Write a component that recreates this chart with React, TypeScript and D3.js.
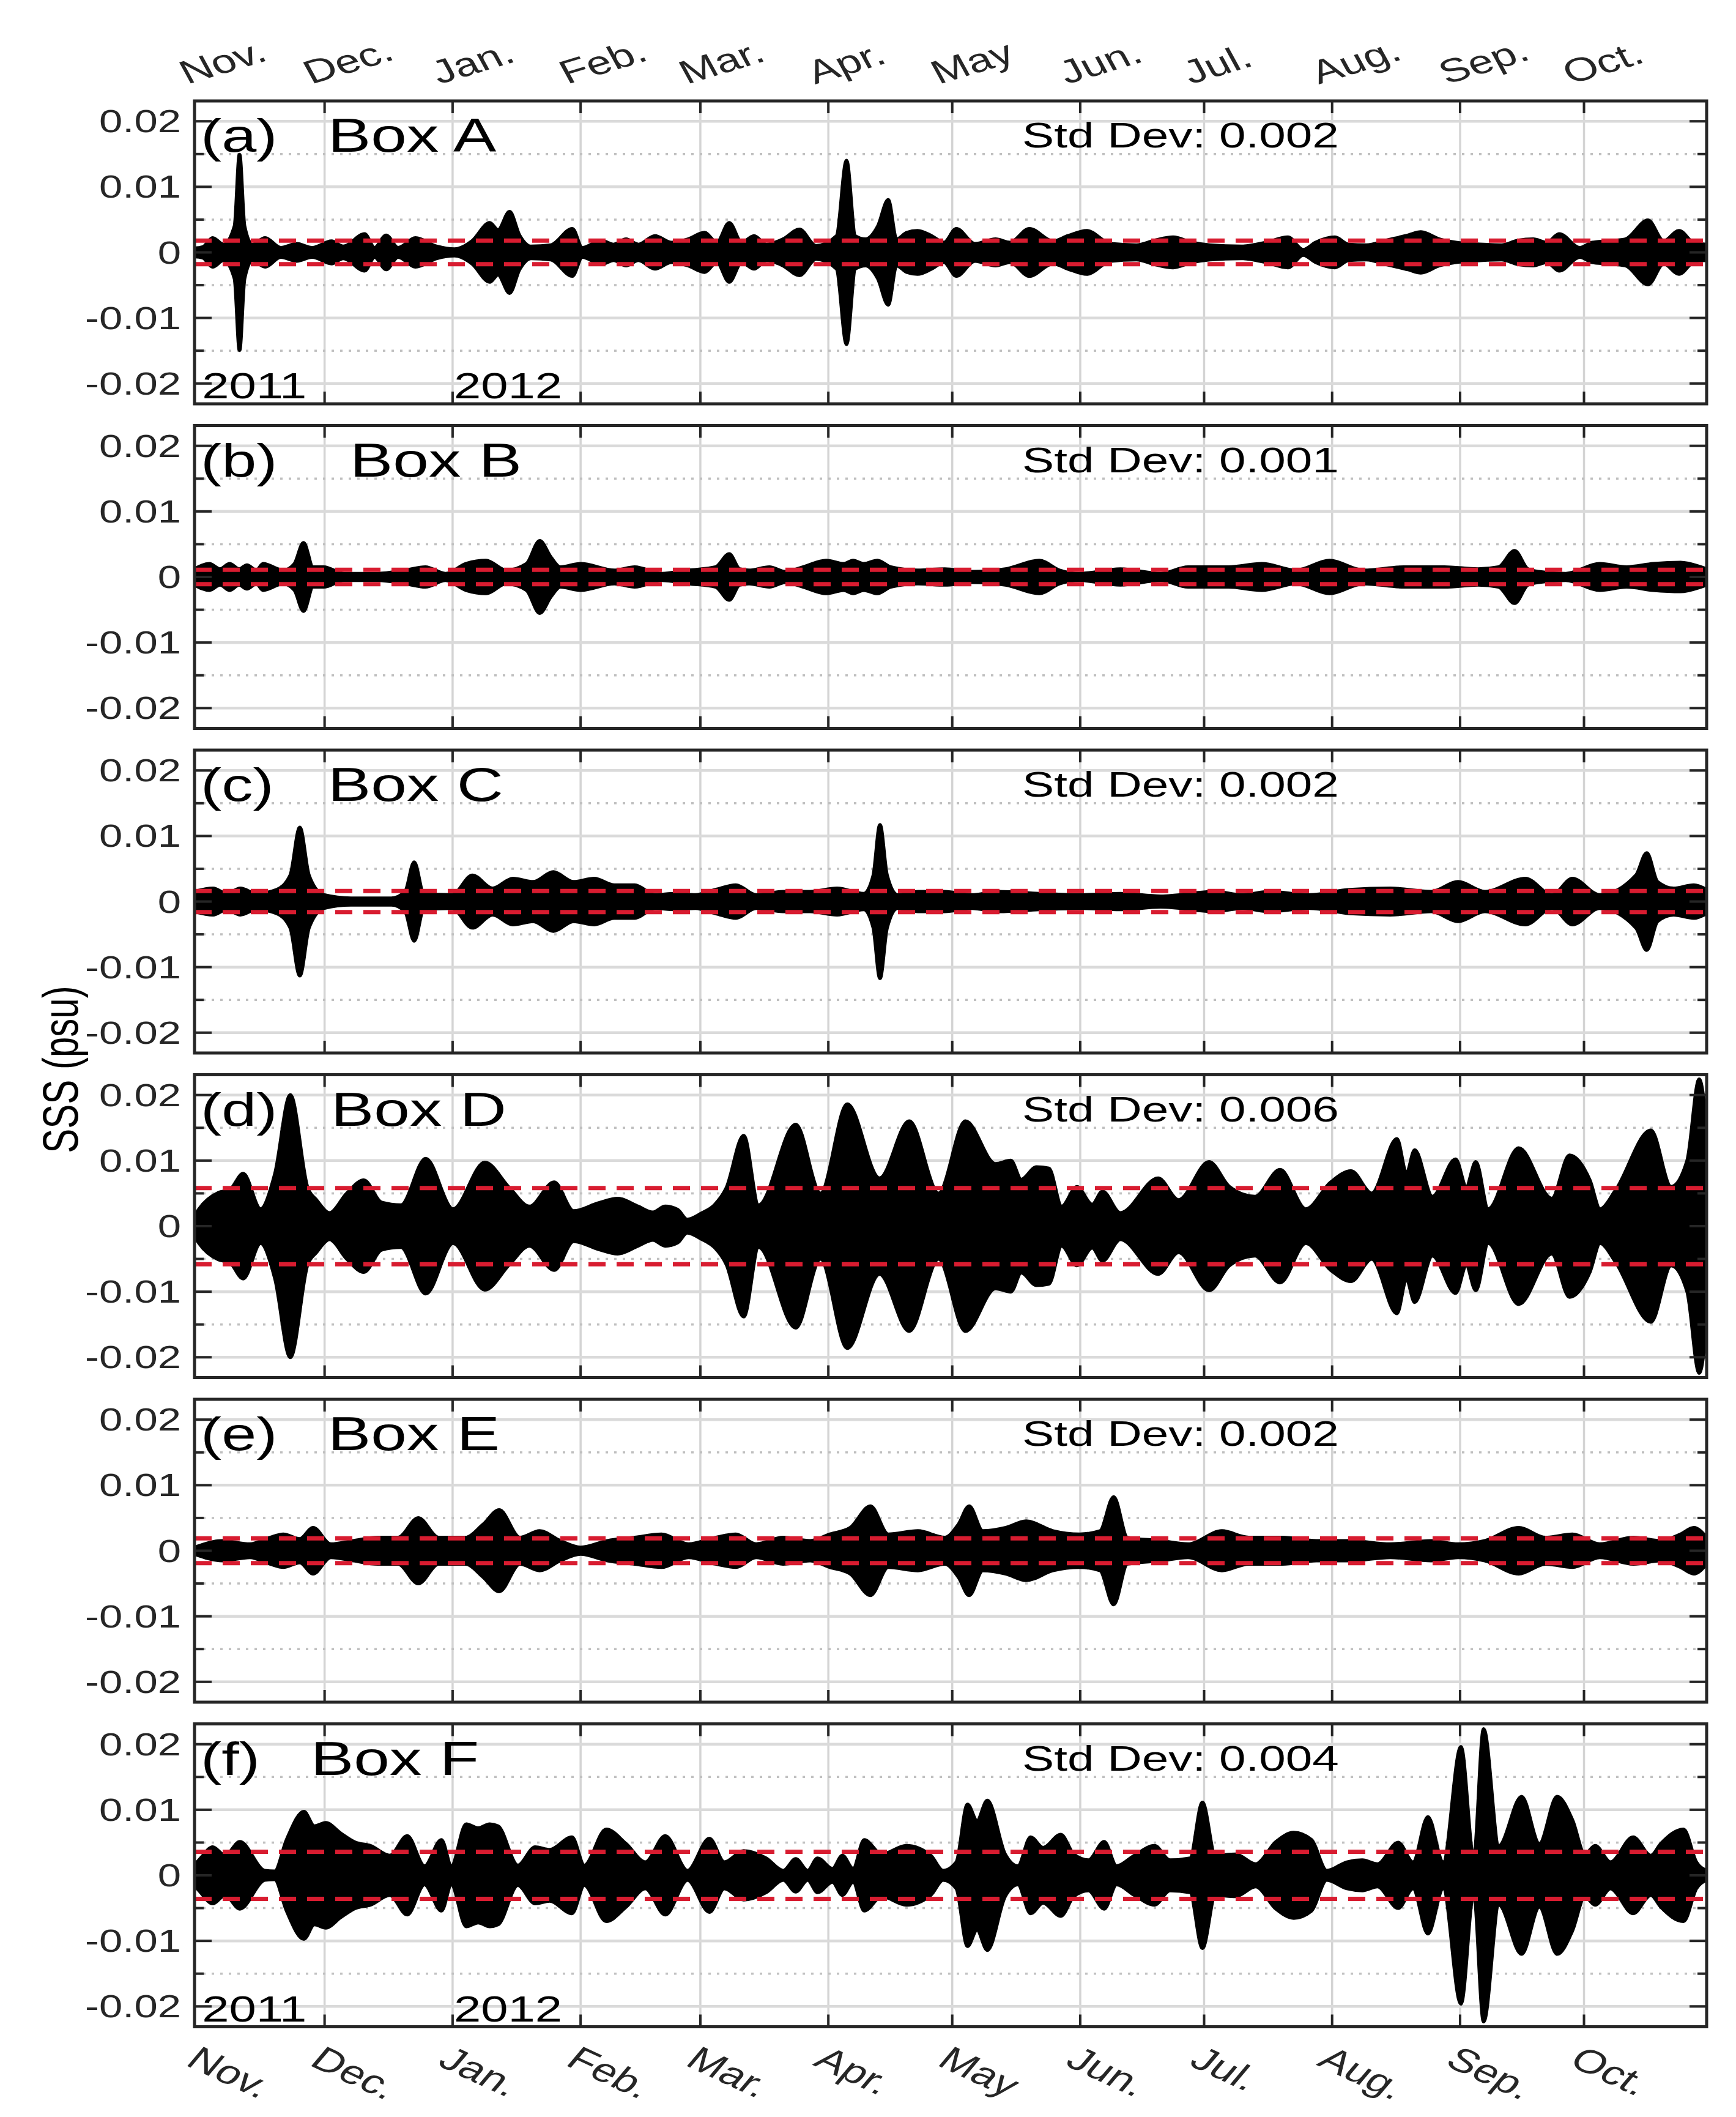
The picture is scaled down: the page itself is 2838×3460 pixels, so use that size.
import React from 'react';
import * as d3 from 'd3';

// ---- data ----
const monthLabels = ['Nov.', 'Dec.', 'Jan.', 'Feb.', 'Mar.', 'Apr.', 'May', 'Jun.', 'Jul.', 'Aug.', 'Sep.', 'Oct.'];
const yMajor = [-0.02, -0.01, 0, 0.01, 0.02];
const yMajorLabels = ['-0.02', '-0.01', '0', '0.01', '0.02'];
const yMinor = [-0.015, -0.005, 0.005, 0.015];
const panelLetters = ['(a)', '(b)', '(c)', '(d)', '(e)', '(f)'];
const boxNames = ['Box A', 'Box B', 'Box C', 'Box D', 'Box E', 'Box F'];
// standard deviation of each series (red dashed lines at +/- this)
const stdDevs = [0.0018, 0.0011, 0.0016, 0.0058, 0.0019, 0.0036];
const yearLabels = ['2011', '2012'];
const yearDays = [0, 61];

// envelope of the tidal-band SSS signal: [day since 1 Nov 2011, half amplitude (psu)]
const envA: [number, number][] = [
  [-1.5, 0.0006], [0.5, 0.0008], [2.9, 0.0022], [5.5, 0.0012], [8.2, 0.004], [9.4, 0.0149], [10.6, 0.004],
  [12.5, 0.0012], [15.6, 0.0022], [19.4, 0.0007], [23.2, 0.0013], [27, 0.0007], [31.7, 0.0017], [34.5, 0.0009],
  [39.7, 0.0028], [42.1, 0.0007], [44.9, 0.0026], [47.8, 0.0007], [52, 0.0022], [57.2, 0.0009], [61.5, 0.0005],
  [65.7, 0.0017], [70, 0.0045], [72, 0.0034], [74.8, 0.0062], [77.2, 0.0026], [80, 0.0009], [84.8, 0.0011],
  [90, 0.0036], [92.4, 0.0007], [97, 0.0018], [100, 0.0012], [103, 0.002], [106, 0.0012], [110, 0.0025],
  [114, 0.0015], [118, 0.002], [122, 0.003], [125, 0.0015], [128, 0.0045], [131, 0.0015], [134, 0.0025],
  [137, 0.0012], [141, 0.002], [145, 0.0035], [149, 0.001], [154, 0.0025], [156.4, 0.014], [158.5, 0.0025],
  [161, 0.002], [164, 0.004], [166.5, 0.008], [168.5, 0.002], [171, 0.003], [173.6, 0.0033], [177, 0.0025],
  [180, 0.0015], [183, 0.0036], [187.5, 0.0013], [192.5, 0.002], [196, 0.0015], [200.7, 0.0036], [206.4, 0.0017],
  [210, 0.0025], [214.6, 0.0033], [220.3, 0.0013], [226.6, 0.0011], [231, 0.0018], [235.5, 0.0023], [240, 0.0015],
  [244.4, 0.0011], [252, 0.0009], [258, 0.0015], [263.3, 0.0023], [267, 0.0004], [270, 0.0015], [274.7, 0.0023],
  [278, 0.0012], [282.3, 0.0011], [287, 0.0018], [292.4, 0.0026], [295.5, 0.0031], [300, 0.002], [304, 0.0015],
  [307.6, 0.0013], [315, 0.0011], [319, 0.0018], [322.7, 0.002], [326, 0.0015], [329, 0.0028], [334, 0.0007],
  [337, 0.0015], [340.4, 0.0017], [345, 0.002], [350.5, 0.0049], [354.3, 0.0017], [358, 0.0033], [361.9, 0.0013],
  [364.7, 0.0012],
];
const envB: [number, number][] = [
  [-1.5, 0.0012], [2.1, 0.002], [4.7, 0.0012], [7, 0.002], [9.3, 0.0012], [11.2, 0.0018], [13.5, 0.001],
  [15.1, 0.002], [20, 0.001], [22.7, 0.002], [24.9, 0.0052], [27.2, 0.0015], [29.8, 0.0015], [34.7, 0.0005],
  [42.9, 0.0005], [49.5, 0.001], [54.4, 0.0015], [59.3, 0.0005], [64.2, 0.002], [69.1, 0.0025], [74, 0.001],
  [78.9, 0.002], [82.1, 0.0055], [84.8, 0.003], [87.1, 0.0015], [92, 0.002], [100.2, 0.001], [105.1, 0.0015],
  [111.6, 0.0005], [118.1, 0.001], [124.7, 0.0015], [128, 0.0035], [130.5, 0.0012], [132.8, 0.001],
  [137.7, 0.0015], [141.6, 0.0008], [145.9, 0.0015], [151.5, 0.0025], [155.7, 0.002], [158, 0.0025],
  [160.6, 0.002], [163.9, 0.0025], [167.1, 0.0015], [173.7, 0.001], [180.2, 0.0012], [186.7, 0.0008],
  [194.9, 0.0012], [203.1, 0.0025], [208, 0.001], [212.9, 0.0005], [222.7, 0.0012], [232.5, 0.0005],
  [239.1, 0.0015], [248.9, 0.0015], [257, 0.002], [265.2, 0.001], [273.4, 0.0025], [281.6, 0.001],
  [291.4, 0.0015], [301.2, 0.0015], [309.3, 0.0012], [314.3, 0.0015], [318.2, 0.004], [321.4, 0.0012],
  [324, 0.0008], [330.6, 0.0005], [338.8, 0.002], [345.3, 0.0015], [351.8, 0.002], [358.4, 0.0022],
  [363.3, 0.0015], [364.7, 0.0012],
];
const envC: [number, number][] = [
  [-1.5, 0.0015], [3, 0.002], [6.3, 0.0012], [9.6, 0.002], [13.5, 0.0012], [18.4, 0.0018], [21.7, 0.004],
  [24, 0.0113], [26.2, 0.004], [29.8, 0.001], [36.4, 0.0005], [46.2, 0.0005], [49.5, 0.0015], [51.7, 0.006],
  [54, 0.0012], [60.9, 0.001], [65.8, 0.004], [70.7, 0.002], [75.6, 0.0035], [80.5, 0.003], [85.4, 0.0045],
  [90.3, 0.003], [95.3, 0.0035], [100.2, 0.0025], [105.1, 0.0025], [110, 0.001], [114.9, 0.0012], [119.8, 0.001],
  [124.7, 0.0018], [129.6, 0.0025], [134.5, 0.001], [141, 0.0015], [147.6, 0.0015], [154.1, 0.002],
  [160.6, 0.0012], [162.9, 0.004], [164.5, 0.0117], [166.2, 0.004], [168.8, 0.001], [173.7, 0.0015],
  [180.2, 0.0015], [186.7, 0.001], [193.3, 0.0015], [203.1, 0.0012], [212.9, 0.001], [222.7, 0.0012],
  [232.5, 0.0008], [245.6, 0.0015], [252.2, 0.001], [258.7, 0.0015], [268.5, 0.001], [278.3, 0.0018],
  [288.1, 0.002], [298, 0.0015], [304.5, 0.003], [311, 0.0015], [320.8, 0.0035], [327.3, 0.001],
  [332.2, 0.0035], [338.8, 0.001], [347.6, 0.004], [350.2, 0.0074], [352.8, 0.003], [356.7, 0.002],
  [361.6, 0.0025], [364.7, 0.0018],
];
const envD: [number, number][] = [
  [-1.5, 0.0015], [-0.4, 0.0026], [4.3, 0.0051], [7, 0.0055], [10.3, 0.008], [14.5, 0.0026], [18, 0.008],
  [21.7, 0.02], [25.9, 0.0058], [28, 0.004], [31.2, 0.002], [35.4, 0.005], [39.5, 0.007], [43.8, 0.0036],
  [48.5, 0.0032], [54.5, 0.0103], [61.1, 0.0026], [68.8, 0.0097], [74.8, 0.0058], [79.6, 0.003], [85.6, 0.0067],
  [90.3, 0.0023], [96.3, 0.0035], [101, 0.0042], [105.9, 0.003], [109.5, 0.0021], [112.5, 0.003],
  [115.5, 0.0025], [117.8, 0.001], [121.4, 0.002], [124.4, 0.0032], [127.3, 0.0058], [131.5, 0.0138],
  [135.1, 0.0032], [144.1, 0.0155], [150.1, 0.005], [156.6, 0.0186], [164.4, 0.0073], [171.6, 0.016],
  [178.7, 0.005], [185.2, 0.016], [192.5, 0.0095], [196.2, 0.01], [198.7, 0.0071], [202.4, 0.009],
  [205.4, 0.0088], [208.5, 0.003], [212.2, 0.006], [215.9, 0.0033], [218.4, 0.0053], [222.7, 0.002],
  [231.9, 0.0073], [236.8, 0.004], [244.2, 0.0098], [249.1, 0.006], [255.3, 0.0045], [261.4, 0.0086],
  [267.6, 0.0026], [273.7, 0.0067], [278.6, 0.0084], [283.6, 0.005], [289.7, 0.0133], [292, 0.008],
  [294, 0.0116], [298.3, 0.0045], [303.9, 0.0102], [306.5, 0.006], [308.8, 0.0098], [311.8, 0.0026],
  [319.2, 0.0119], [327.2, 0.0042], [331.5, 0.0108], [336.4, 0.007], [338.9, 0.0026], [342.6, 0.0054],
  [351.2, 0.0146], [356.1, 0.006], [360, 0.01], [362.9, 0.0224], [364.7, 0.015],
];
const envE: [number, number][] = [
  [-1.5, 0.0005], [5.3, 0.0015], [11.9, 0.001], [16.8, 0.002], [20, 0.0025], [24, 0.0018], [27.2, 0.0035],
  [31.5, 0.001], [37, 0.0015], [42.9, 0.002], [47.8, 0.002], [52.7, 0.005], [57.6, 0.002], [64.2, 0.002],
  [68.4, 0.004], [72.3, 0.0062], [77.3, 0.002], [82.1, 0.003], [87.1, 0.0015], [92, 0.0005], [98.5, 0.0015],
  [105.1, 0.002], [111.6, 0.0025], [118.1, 0.001], [124.7, 0.002], [129.6, 0.0025], [134.5, 0.001],
  [141, 0.002], [147.6, 0.0015], [152.4, 0.0025], [157.3, 0.0035], [162.2, 0.0068], [166.5, 0.0025],
  [173.7, 0.003], [180.2, 0.002], [183.5, 0.004], [186.1, 0.0068], [189.4, 0.003], [195, 0.0035],
  [199.9, 0.0045], [206.4, 0.003], [212.9, 0.0025], [217.8, 0.003], [221.1, 0.0082], [224.4, 0.002],
  [232.5, 0.0015], [239.1, 0.001], [247.3, 0.003], [253.8, 0.002], [262, 0.002], [270.2, 0.0015],
  [278.3, 0.0015], [288.1, 0.001], [298, 0.0015], [304.5, 0.001], [311, 0.0015], [319.2, 0.0035],
  [325.7, 0.002], [332.2, 0.0025], [338.8, 0.001], [347, 0.002], [353.5, 0.0015], [358.4, 0.0025],
  [361.6, 0.0035], [364.7, 0.002],
];
const envF: [number, number][] = [
  [-1.5, 0.0015], [0, 0.0026], [2.9, 0.0043], [5.9, 0.003], [9.5, 0.0051], [15.5, 0.0007], [17.9, 0.0006],
  [20.8, 0.0054], [25, 0.0097], [27.5, 0.0075], [30.3, 0.008], [33.9, 0.0064], [37.5, 0.005], [41.1, 0.0045],
  [45.8, 0.003], [50, 0.006], [54.2, 0.0014], [58.3, 0.0054], [60.7, 0.0014], [64.3, 0.0078], [67.2, 0.0072],
  [70, 0.0078], [72, 0.0075], [76.8, 0.0015], [81, 0.0043], [84.5, 0.0039], [89.9, 0.0058], [92.9, 0.0015],
  [98.2, 0.007], [103, 0.0048], [107.7, 0.002], [112.5, 0.006], [117.9, 0.0007], [123.2, 0.0056],
  [126.8, 0.002], [131.5, 0.0037], [136.9, 0.0026], [141.1, 0.0007], [144.1, 0.0025], [147, 0.0007],
  [149.4, 0.0026], [153, 0.001], [155.4, 0.003], [158, 0.001], [160.7, 0.0054], [164.9, 0.0032],
  [170.9, 0.0045], [176.8, 0.003], [179.8, 0.0007], [183, 0.002], [185.7, 0.0108], [188, 0.0083],
  [190.5, 0.0114], [194.8, 0.0032], [197.9, 0.0014], [201, 0.0058], [204, 0.0042], [208.3, 0.0062],
  [211.4, 0.0032], [215, 0.0023], [218.8, 0.0051], [221.8, 0.0014], [226.1, 0.003], [231, 0.0045],
  [234.7, 0.0023], [239.6, 0.0026], [242.6, 0.0111], [245.7, 0.003], [250.6, 0.0032], [255.5, 0.0017],
  [260.4, 0.0051], [264.7, 0.0065], [269, 0.0054], [272.7, 0.0007], [277.6, 0.002], [281.3, 0.0023],
  [285, 0.0017], [290, 0.005], [293.6, 0.002], [297.2, 0.0089], [300.9, 0.002], [305.2, 0.0196],
  [308.3, 0.0026], [310.7, 0.0223], [314.4, 0.0045], [319.9, 0.012], [324.2, 0.0048], [328.5, 0.012],
  [332.2, 0.0084], [335.2, 0.0032], [337.7, 0.0045], [341.4, 0.002], [346.9, 0.0058], [351.2, 0.003],
  [353.6, 0.0048], [359.1, 0.007], [362.2, 0.002], [364.7, 0.0007],
];
const envelopes = [envA, envB, envC, envD, envE, envF];

// ---- layout ----
const W = 2838;
const H = 3460;
const LEFT = 318;
const RIGHT = 2790;
const TOP0 = 165;
const STEP = 530.5;
const PH = 495;
const YLIM = 0.0231;
const SX = 1.35; // the figure is stretched horizontally
const FONT = '"Liberation Sans", Arial, Helvetica, sans-serif';
const titleX = [536, 572, 536, 541, 536, 508];

const t0 = Date.UTC(2011, 10, 1);
const dayToDate = (d: number) => new Date(t0 + d * 864e5);
const x = d3.scaleUtc().domain([dayToDate(-1.5), dayToDate(364.7)]).range([LEFT, RIGHT]);
const months = d3.utcMonth.range(new Date(t0), dayToDate(365));

function T({ x, y, size, anchor = 'start', rot = 0, fill = '#000', children }: any) {
  return (
    <text
      transform={`translate(${x},${y}) scale(${SX},1) rotate(${rot})`}
      fontSize={size}
      textAnchor={anchor}
      fontFamily={FONT}
      fill={fill}
    >
      {children}
    </text>
  );
}

function Panel({ i }: { i: number }) {
  const top = TOP0 + i * STEP;
  const bottom = top + PH;
  const y = d3.scaleLinear().domain([-YLIM, YLIM]).range([bottom, top]);
  const area = d3
    .area<[number, number]>()
    .x((d) => x(dayToDate(d[0])))
    .y0((d) => y(-d[1]))
    .y1((d) => y(d[1]))
    .curve(d3.curveMonotoneX);
  const sd = stdDevs[i];
  const fmt = d3.format('.3f');
  const showYears = i === 0 || i === 5;

  return (
    <g>
      <defs>
        <clipPath id={`clip${i}`}>
          <rect x={LEFT} y={top} width={RIGHT - LEFT} height={PH} />
        </clipPath>
      </defs>
      <rect x={LEFT} y={top} width={RIGHT - LEFT} height={PH} fill="#fff" />
      {/* grid */}
      {months.slice(1).map((m, k) => (
        <line key={'v' + k} x1={x(m)} x2={x(m)} y1={top} y2={bottom} stroke="#d4d4d4" strokeWidth={3.5} />
      ))}
      {yMajor.map((v) => (
        <line key={'h' + v} x1={LEFT} x2={RIGHT} y1={y(v)} y2={y(v)} stroke="#dadada" strokeWidth={4.5} />
      ))}
      {yMinor.map((v) => (
        <line
          key={'m' + v}
          x1={LEFT}
          x2={RIGHT}
          y1={y(v)}
          y2={y(v)}
          stroke="#c0c0c0"
          strokeWidth={3.5}
          strokeDasharray="4 10"
        />
      ))}
      {/* signal */}
      <g clipPath={`url(#clip${i})`}>
        <path d={area(envelopes[i]) || ''} fill="#000" stroke="#000" strokeWidth={6} strokeLinejoin="round" />
      </g>
      {/* +/- std dev */}
      {[sd, -sd].map((v) => (
        <line
          key={'s' + v}
          x1={LEFT}
          x2={RIGHT}
          y1={y(v)}
          y2={y(v)}
          stroke="#d81c30"
          strokeWidth={7}
          strokeDasharray="28 18"
        />
      ))}
      {/* ticks */}
      {months.slice(1).map((m, k) => (
        <g key={'xt' + k}>
          <line x1={x(m)} x2={x(m)} y1={top} y2={top + 20} stroke="#262626" strokeWidth={4} />
          <line x1={x(m)} x2={x(m)} y1={bottom} y2={bottom - 20} stroke="#262626" strokeWidth={4} />
        </g>
      ))}
      {yMajor.map((v) => (
        <g key={'yt' + v}>
          <line x1={LEFT} x2={LEFT + 28} y1={y(v)} y2={y(v)} stroke="#262626" strokeWidth={4} />
          <line x1={RIGHT} x2={RIGHT - 28} y1={y(v)} y2={y(v)} stroke="#262626" strokeWidth={4} />
        </g>
      ))}
      {yMinor.map((v) => (
        <g key={'ym' + v}>
          <line x1={LEFT} x2={LEFT + 15} y1={y(v)} y2={y(v)} stroke="#262626" strokeWidth={4} />
          <line x1={RIGHT} x2={RIGHT - 15} y1={y(v)} y2={y(v)} stroke="#262626" strokeWidth={4} />
        </g>
      ))}
      <rect x={LEFT} y={top} width={RIGHT - LEFT} height={PH} fill="none" stroke="#262626" strokeWidth={5} />
      {/* y tick labels */}
      {yMajor.map((v, k) => (
        <T key={'yl' + v} x={296} y={y(v) + 18} size={51} anchor="end" fill="#262626">
          {yMajorLabels[k]}
        </T>
      ))}
      {/* titles */}
      <T x={328} y={top + 83} size={76}>
        {panelLetters[i]}
      </T>
      <T x={titleX[i]} y={top + 83} size={78}>
        {boxNames[i]}
      </T>
      <T x={1671} y={top + 76} size={58}>
        {`Std Dev: ${fmt(sd)}`}
      </T>
      {showYears &&
        yearLabels.map((lab, k) => (
          <T key={lab} x={x(dayToDate(yearDays[k])) + 2} y={bottom - 9} size={59}>
            {lab}
          </T>
        ))}
    </g>
  );
}

export default function App() {
  const lastBottom = TOP0 + 5 * STEP + PH;
  return (
    <svg
      width={W}
      height={H}
      viewBox={`0 0 ${W} ${H}`}
      style={{ position: 'absolute', left: 0, top: 0, background: '#fff' }}
    >
      <rect width={W} height={H} fill="#fff" />
      {panelLetters.map((_, i) => (
        <Panel key={i} i={i} />
      ))}
      {/* top month labels */}
      {months.map((m, k) => (
        <T key={'tm' + k} x={x(m) - 22} y={138} size={54} rot={-22} fill="#262626">
          {monthLabels[k]}
        </T>
      ))}
      {/* bottom month labels */}
      {months.map((m, k) => (
        <T key={'bm' + k} x={x(m) - 27} y={lastBottom + 62} size={54} rot={32} fill="#262626">
          {monthLabels[k]}
        </T>
      ))}
      <T x={127} y={1748} size={60} anchor="middle" rot={-90}>
        SSS (psu)
      </T>
    </svg>
  );
}
